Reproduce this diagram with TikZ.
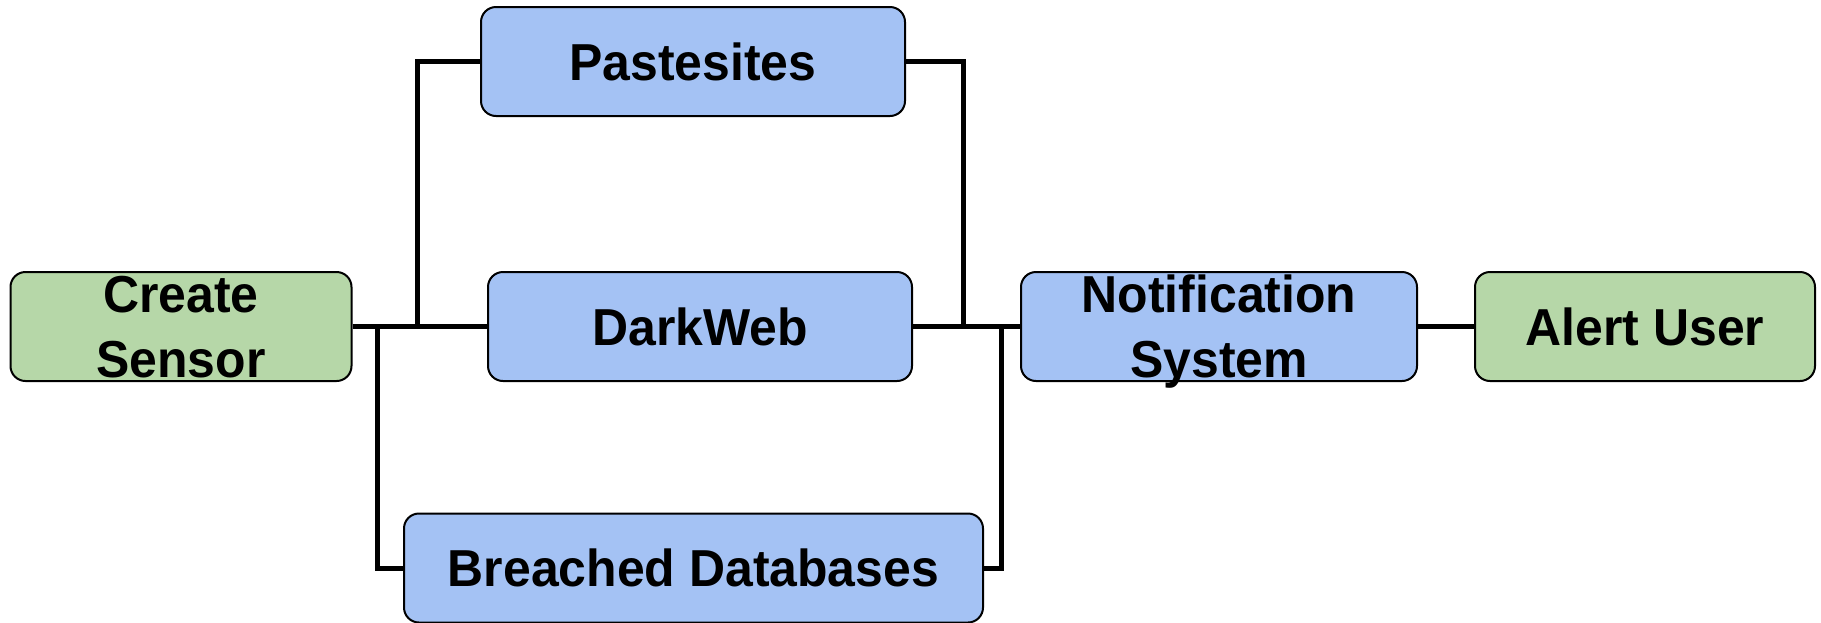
\documentclass[tikz,border=0pt]{standalone}
\usepackage{fontspec}
\setmainfont[FakeStretch=0.96]{Liberation Sans}
\definecolor{boxgreen}{HTML}{B6D7A8}
\definecolor{boxblue}{HTML}{A4C2F4}
\begin{document}
\begin{tikzpicture}[x=1pt,y=-1pt,
  box/.style={draw=black, line width=2pt, rounded corners=15pt, inner sep=0pt,
    minimum height=109pt, align=center, text depth=0pt,
    font=\fontsize{52}{65}\selectfont\bfseries},
  greenbox/.style={box, fill=boxgreen},
  bluebox/.style={box, fill=boxblue},
  conn/.style={draw=black, line width=5pt, line join=miter}]
\useasboundingbox (0,0) rectangle (1821,622);
\node[greenbox, minimum width=341pt] (cs) at (181,326.5) {Create\\Sensor};
\node[bluebox, minimum width=424pt] (ps) at (693,61.5) {Pastesites};
\node[bluebox, minimum width=424pt] (dw) at (700,326.5) {DarkWeb};
\node[bluebox, minimum width=579pt] (bd) at (693.5,568) {Breached Databases};
\node[bluebox, minimum width=396pt] (ns) at (1219,326.5) {Notification\\System};
\node[greenbox, minimum width=340pt] (au) at (1645,326.5) {Alert User};
\coordinate (j1) at (417,326.5);
\coordinate (j2) at (377.5,326.5);
\coordinate (j3) at (963,326.5);
\coordinate (j4) at (1001,326.5);
\draw[conn] (cs.east) -- (dw.west);
\draw[conn] (j1) |- (ps.west);
\draw[conn] (j2) |- (bd.west);
\draw[conn] (ps.east) -| (j3);
\draw[conn] (bd.east) -| (j4);
\draw[conn] (dw.east) -- (ns.west);
\draw[conn] (ns.east) -- (au.west);
\end{tikzpicture}
\end{document}
